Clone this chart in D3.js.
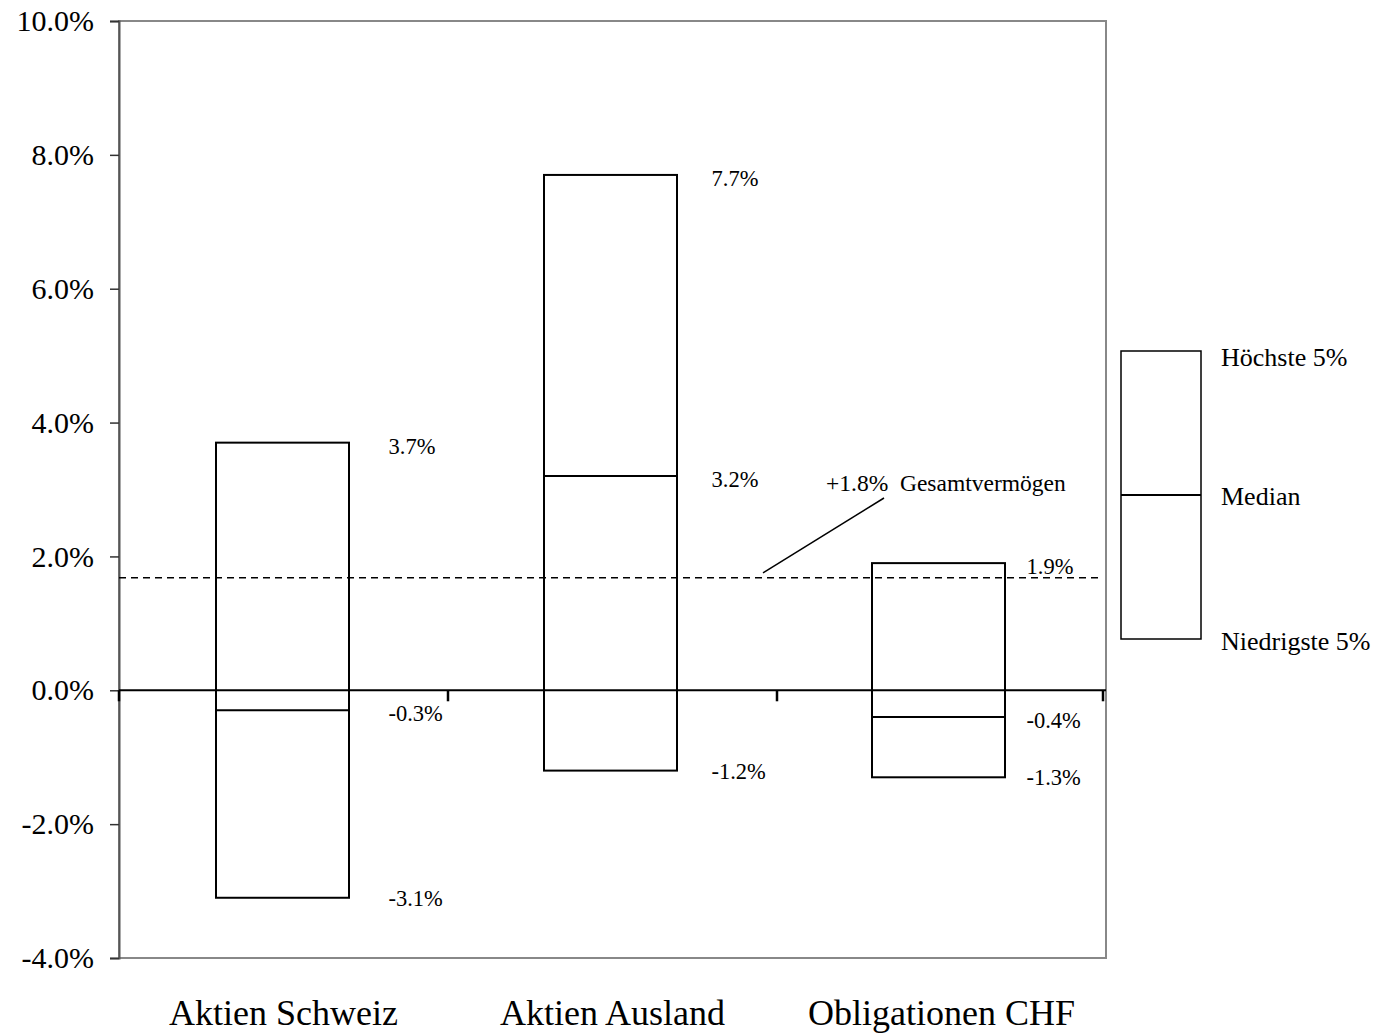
<!DOCTYPE html>
<html>
<head>
<meta charset="utf-8">
<script src="https://cdn.jsdelivr.net/npm/d3@7"></script>
<style>
  html, body { margin: 0; padding: 0; background: #fff; }
  svg { display: block; font-family: "Liberation Serif", "Times New Roman", serif; }
</style>
</head>
<body>
<svg id="chart" width="1385" height="1034"></svg>
<script>
// ---- data ----
const categories = ["Aktien Schweiz", "Aktien Ausland", "Obligationen CHF"];
const highValues = [3.7, 7.7, 1.9];
const medianValues = [-0.3, 3.2, -0.4];
const lowValues = [-3.1, -1.2, -1.3];
const totalLineValue = 1.68;
const totalLabel = "+1.8%  Gesamtvermögen";
const yTicks = [-4, -2, 0, 2, 4, 6, 8, 10];
const legendLabels = ["Höchste 5%", "Median", "Niedrigste 5%"];

// ---- layout ----
const svg = d3.select("#chart");
const plot = { left: 119, right: 1106, top: 21, bottom: 958 };
const labelDx = [106, 101, 88];
const boxShift = [-1, -2, -3];

const y = d3.scaleLinear().domain([-4, 10]).range([plot.bottom, plot.top]);
const xBand = d3.scaleBand().domain(categories).range([plot.left, plot.right]);
const fmt = v => v.toFixed(1) + "%";

// plot frame in gray
svg.append("rect")
  .attr("x", plot.left).attr("y", plot.top)
  .attr("width", plot.right - plot.left).attr("height", plot.bottom - plot.top)
  .attr("fill", "none").attr("stroke", "#888").attr("stroke-width", 2);

// y axis
const yAxis = d3.axisLeft(y).tickValues(yTicks).tickSize(9).tickPadding(16)
  .tickFormat(v => v.toFixed(1) + "%");
const gy = svg.append("g").attr("transform", `translate(${plot.left},0)`).call(yAxis);
gy.select(".domain").attr("stroke", "#555").attr("stroke-width", 2);
gy.selectAll(".tick line").attr("stroke", "#333").attr("stroke-width", 1.5);
gy.selectAll(".tick text").attr("font-family", "Liberation Serif, Times New Roman, serif")
  .attr("font-size", 30).attr("fill", "#000");

// dashed total line
svg.append("line")
  .attr("x1", plot.left).attr("x2", plot.right - 6)
  .attr("y1", y(totalLineValue)).attr("y2", y(totalLineValue))
  .attr("stroke", "#000").attr("stroke-width", 1.5).attr("stroke-dasharray", "7,5");

// boxes
const bw = 133;
categories.forEach((c, i) => {
  const cx = xBand(c) + xBand.bandwidth() / 2 + boxShift[i];
  const x0 = cx - bw / 2;
  svg.append("rect")
    .attr("x", x0).attr("y", y(highValues[i]))
    .attr("width", bw).attr("height", y(lowValues[i]) - y(highValues[i]))
    .attr("fill", "none").attr("stroke", "#000").attr("stroke-width", 2);
  svg.append("line")
    .attr("x1", x0).attr("x2", x0 + bw)
    .attr("y1", y(medianValues[i])).attr("y2", y(medianValues[i]))
    .attr("stroke", "#000").attr("stroke-width", 2);
  [highValues[i], medianValues[i], lowValues[i]].forEach((v, k) => {
    svg.append("text")
      .attr("x", cx + labelDx[i]).attr("y", y(v) + (k === 2 ? 8 : 11))
      .attr("font-size", 22.5).attr("fill", "#000")
      .text(fmt(v));
  });
});

// zero line with category ticks
svg.append("line")
  .attr("x1", plot.left).attr("x2", plot.right)
  .attr("y1", y(0)).attr("y2", y(0))
  .attr("stroke", "#000").attr("stroke-width", 2);
const bounds = categories.map(c => xBand(c)).concat([plot.right - 3]);
bounds.forEach(bx => {
  svg.append("line")
    .attr("x1", bx).attr("x2", bx)
    .attr("y1", y(0)).attr("y2", y(0) + 11)
    .attr("stroke", "#000").attr("stroke-width", 2.5);
});

// category labels
categories.forEach(c => {
  svg.append("text")
    .attr("x", xBand(c) + xBand.bandwidth() / 2).attr("y", 1025)
    .attr("text-anchor", "middle").attr("font-size", 36).attr("fill", "#000")
    .text(c);
});

// annotation for total
svg.append("line")
  .attr("x1", 763).attr("y1", y(totalLineValue) - 5)
  .attr("x2", 884).attr("y2", 498)
  .attr("stroke", "#000").attr("stroke-width", 1.5);
svg.append("text")
  .attr("x", 826).attr("y", 491)
  .attr("font-size", 23.5).attr("fill", "#000")
  .attr("xml:space", "preserve").style("white-space", "pre")
  .text(totalLabel);

// legend
const lg = { x: 1121, w: 80, top: 351, mid: 495, bottom: 639 };
svg.append("rect").attr("x", lg.x).attr("y", lg.top).attr("width", lg.w)
  .attr("height", lg.bottom - lg.top).attr("fill", "none").attr("stroke", "#000").attr("stroke-width", 1.5);
svg.append("line").attr("x1", lg.x).attr("x2", lg.x + lg.w).attr("y1", lg.mid).attr("y2", lg.mid)
  .attr("stroke", "#000").attr("stroke-width", 2);
[lg.top + 15, lg.mid + 10, lg.bottom + 11].forEach((ly, i) => {
  svg.append("text").attr("x", 1221).attr("y", ly)
    .attr("font-size", 26).attr("fill", "#000")
    .text(legendLabels[i]);
});
</script>
</body>
</html>
